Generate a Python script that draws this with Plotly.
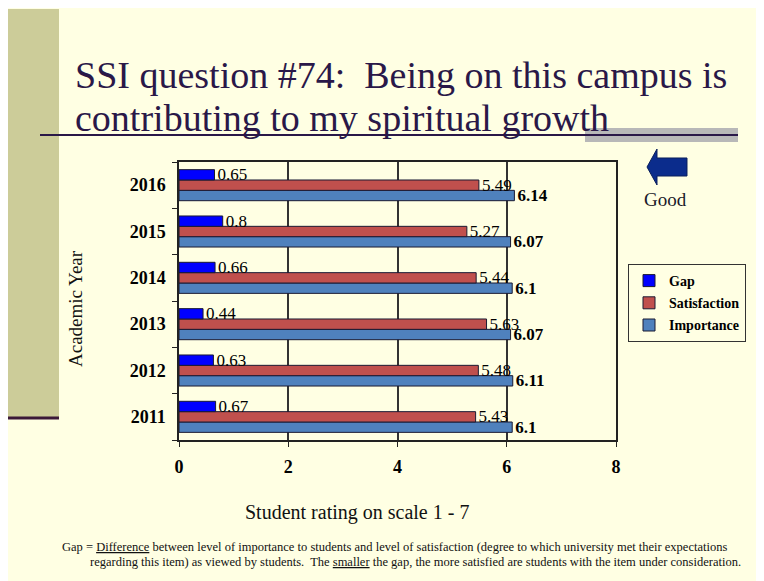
import plotly.graph_objects as go

# ---- data ----
years = ["2011", "2012", "2013", "2014", "2015", "2016"]
gap = [0.67, 0.63, 0.44, 0.66, 0.8, 0.65]
satisfaction = [5.43, 5.48, 5.63, 5.44, 5.27, 5.49]
importance = [6.1, 6.11, 6.07, 6.1, 6.07, 6.14]
x_ticks = [0, 2, 4, 6, 8]

W, H = 764, 581
OFF = 8  # page body margin
SL, SR, ST, SB = 179, 616, 162, 440  # plot area in screen pixels


def px(x):
    return (x - SL) / (SR - SL)


def py(y):
    return (SB - y) / (SB - ST)


serif = "Liberation Serif"
bg = "#FFFFE3"
ink = "#2A1848"
outline = dict(color="#1A1A33", width=1)
lab = 17

fig = go.Figure()
fig.add_trace(go.Bar(
    y=years, x=importance, name="Importance", orientation="h",
    marker=dict(color="#4F81BD", line=outline),
    text=[f"{v:g}" for v in importance], textposition="outside",
    textfont=dict(family=serif, size=lab, color="#000000", weight="bold"),
    outsidetextfont=dict(family=serif, size=lab, color="#000000", weight="bold"),
    constraintext="none", cliponaxis=False, legendgroup="imp", legendrank=3,
))
fig.add_trace(go.Bar(
    y=years, x=satisfaction, name="Satisfaction", orientation="h",
    marker=dict(color="#C0504D", line=outline),
    text=[f"{v:g}" for v in satisfaction], textposition="outside",
    textfont=dict(family=serif, size=lab, color="#000000"),
    outsidetextfont=dict(family=serif, size=lab, color="#000000"),
    constraintext="none", cliponaxis=False, legendgroup="sat", legendrank=2,
))
fig.add_trace(go.Bar(
    y=years, x=gap, name="Gap", orientation="h",
    marker=dict(color="#0000FF", line=outline),
    text=[f"{v:g}" for v in gap], textposition="outside",
    textfont=dict(family=serif, size=lab, color="#000000"),
    outsidetextfont=dict(family=serif, size=lab, color="#000000"),
    constraintext="none", cliponaxis=False, legendgroup="gap", legendrank=1,
))

shapes = [
    # left decorative strip
    dict(type="rect", xref="paper", yref="paper", x0=px(8), x1=px(59), y0=py(418), y1=py(9),
         fillcolor="#CCCC99", line=dict(width=0), layer="below"),
    dict(type="line", xref="paper", yref="paper", x0=px(8), x1=px(59), y0=py(418), y1=py(418),
         line=dict(color="#3A1838", width=3)),
    # grey bar and title underline
    dict(type="rect", xref="paper", yref="paper", x0=px(585), x1=px(738), y0=py(142), y1=py(128),
         fillcolor="#B8B8B8", line=dict(width=0)),
    dict(type="line", xref="paper", yref="paper", x0=px(40), x1=px(738), y0=py(135), y1=py(135),
         line=dict(color=ink, width=2)),
]
# "Good" arrow
pts = [(647, 167), (657, 149), (657, 158), (687, 158), (687, 176), (657, 176), (657, 185)]
path = "M " + " L ".join(f"{px(x):.5f},{py(y):.5f}" for x, y in pts) + " Z"
shapes.append(dict(type="path", xref="paper", yref="paper", path=path,
                   fillcolor="#0B2C8C", line=dict(color="#0A1F5C", width=1)))

annotations = [
    dict(text="SSI question #74:  Being on this campus is", x=px(73), y=py(75),
         xanchor="left", yanchor="middle", font=dict(family=serif, size=38, color=ink)),
    dict(text="contributing to my spiritual growth", x=px(73), y=py(118),
         xanchor="left", yanchor="middle", font=dict(family=serif, size=38, color=ink)),
    dict(text="Good", x=px(665), y=py(199), xanchor="center", yanchor="middle",
         font=dict(family=serif, size=19, color="#1A1A2A")),
    dict(text="Student rating on scale 1 - 7", x=px(357), y=py(512), xanchor="center", yanchor="middle",
         font=dict(family=serif, size=20, color="#111111")),
    dict(text="Academic Year", x=px(75), y=py(309), xanchor="center", yanchor="middle", textangle=-90,
         font=dict(family=serif, size=19, color="#111111")),
    dict(text="Gap = <u>Difference</u> between level of importance to students and level of satisfaction "
              "(degree to which university met their expectations",
         x=px(60), y=py(547), xanchor="left", yanchor="middle",
         font=dict(family=serif, size=12.5, color="#111111")),
    dict(text="regarding this item) as viewed by students.\u00a0 The <u>smaller</u> the gap, the more satisfied "
              "are students with the item under consideration.",
         x=px(88), y=py(562), xanchor="left", yanchor="middle",
         font=dict(family=serif, size=12.5, color="#111111")),
]
for a in annotations:
    a.update(xref="paper", yref="paper", showarrow=False)

fig.update_layout(
    width=W, height=H,
    font=dict(family=serif, color="#000000"),
    margin=dict(l=SL - OFF, r=W - (SR - OFF), t=ST - OFF, b=H - (SB - OFF), pad=0),
    paper_bgcolor=bg, plot_bgcolor=bg,
    barmode="group", bargap=0.33, bargroupgap=0,
    showlegend=True,
    legend=dict(x=px(628), y=py(264), xanchor="left", yanchor="top",
                traceorder="grouped", tracegroupgap=1,
                bordercolor="#333333", borderwidth=1, bgcolor="rgba(0,0,0,0)",
                font=dict(family=serif, size=14, color="#000000", weight="bold"),
                itemwidth=30),
    xaxis=dict(range=[0, 8], tickvals=x_ticks, showgrid=True, gridcolor="#333333", gridwidth=1.5,
               showline=True, linecolor="#222222", linewidth=1.5, mirror=True,
               ticks="outside", ticklen=5, tickcolor="#222222",
               tickfont=dict(family=serif, size=18, color="#000000", weight="bold"),
               ticklabelstandoff=5, zeroline=False, fixedrange=True),
    yaxis=dict(categoryorder="array", categoryarray=years, showgrid=False,
               showline=True, linecolor="#222222", linewidth=1.5, mirror=True,
               ticks="outside", ticklen=5, tickcolor="#222222", tickson="boundaries",
               tickfont=dict(family=serif, size=18, color="#000000", weight="bold"),
               ticklabelstandoff=8, fixedrange=True),
    shapes=shapes, annotations=annotations,
)

fig.write_html("out.html")
